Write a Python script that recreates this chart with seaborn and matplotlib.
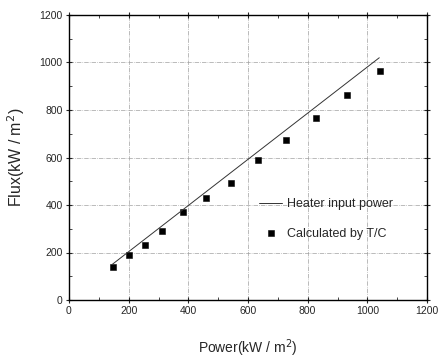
import matplotlib
matplotlib.use("Agg")
import matplotlib.pyplot as plt
import matplotlib.ticker as tck
import pandas as pd
import seaborn as sns

# calculated flux from thermocouples
power_tc = [148, 200, 254, 312, 383, 460, 542, 632, 728, 828, 932, 1041]
flux_tc = [140, 189, 232, 292, 372, 431, 494, 588, 674, 765, 863, 963]

# heater input power line
power_line = [145, 1040]
flux_line = [150, 1020]

sns.set_theme(style="ticks")
plt.rcParams['font.family'] = ['Liberation Sans', 'DejaVu Sans']

fig = plt.figure(figsize=(4.45, 3.59), dpi=100)
ax = fig.add_axes([69 / 445, 1 - 300 / 359, (427 - 69) / 445, (300 - 15) / 359])

line_df = pd.DataFrame({"power": power_line, "flux": flux_line})
tc_df = pd.DataFrame({"power": power_tc, "flux": flux_tc})

sns.lineplot(data=line_df, x="power", y="flux", ax=ax, color="#333333",
             linewidth=0.7, label="Heater input power")
sns.scatterplot(data=tc_df, x="power", y="flux", ax=ax, color="black",
                marker="s", s=22, edgecolor="black", label="Calculated by T/C")

ax.set_xlim(0, 1200)
ax.set_ylim(0, 1200)
ax.xaxis.set_major_locator(tck.MultipleLocator(200))
ax.xaxis.set_minor_locator(tck.MultipleLocator(100))
ax.yaxis.set_major_locator(tck.MultipleLocator(200))
ax.yaxis.set_minor_locator(tck.MultipleLocator(100))
ax.grid(True, which="major", color="#a0a0a0", linestyle="-.", linewidth=0.5)
ax.tick_params(which="major", direction="inout", length=5, width=0.8, labelsize=7.5, pad=2)
ax.tick_params(which="minor", direction="in", length=2.5, width=0.6)
ax.tick_params(top=True, right=True, which="both")
ax.tick_params(labeltop=False, labelright=False)
for sp in ax.spines.values():
    sp.set_linewidth(1.0)
    sp.set_color("black")

ax.set_xlabel("Power(kW / m$^2$)", fontsize=10, labelpad=15)
ax.set_ylabel("Flux(kW / m$^2$)", fontsize=11.5, labelpad=9)

ax.legend(loc="center left", bbox_to_anchor=(0.5, 0.285), frameon=False,
          fontsize=9, handlelength=1.8, handletextpad=0.4, labelspacing=1.4)

fig.savefig("out.png", dpi=100)
